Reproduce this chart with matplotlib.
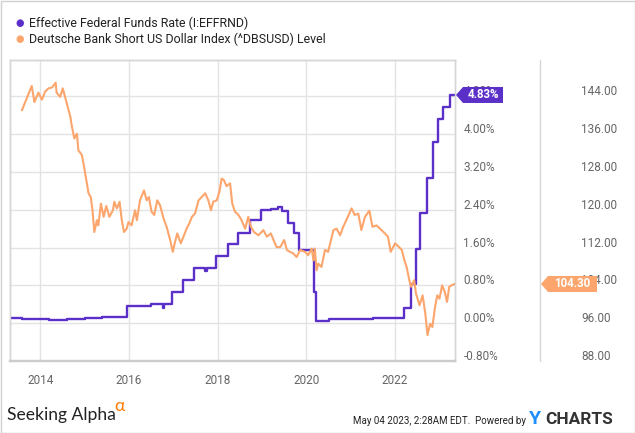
import matplotlib
matplotlib.use("Agg")
import matplotlib.pyplot as plt
import matplotlib.transforms as mtransforms
from matplotlib.patches import Polygon, Rectangle
from matplotlib.lines import Line2D

plt.rcParams['font.family'] = ['Roboto', 'DejaVu Sans']

# ---- data (decimal years) ----
fed_x = [2013.32, 2013.60, 2013.90, 2014.20, 2014.60, 2015.00, 2015.40, 2015.70,
         2015.96, 2016.10, 2016.50, 2016.76, 2016.79, 2016.97, 2017.22, 2017.46,
         2017.72, 2017.75, 2017.97, 2018.23, 2018.46, 2018.72, 2018.97, 2019.20,
         2019.35, 2019.45, 2019.58, 2019.72, 2019.84, 2020.17, 2020.21, 2020.50,
         2021.00, 2021.50, 2022.21, 2022.35, 2022.46, 2022.57, 2022.72, 2022.85,
         2022.96, 2023.09, 2023.23, 2023.34]
fed_y = [0.11, 0.09, 0.08, 0.07, 0.09, 0.11, 0.13, 0.14,
         0.36, 0.37, 0.40, 0.33, 0.40, 0.66, 0.91, 1.16,
         1.10, 1.16, 1.42, 1.68, 1.91, 2.18, 2.40, 2.41,
         2.45, 2.38, 2.13, 1.90, 1.55, 0.65, 0.05, 0.09,
         0.08, 0.10, 0.33, 0.83, 1.58, 2.33, 3.08, 3.83,
         4.33, 4.58, 4.83, 4.83]

dbs_x = [2013.59, 2013.81, 2013.87, 2013.96, 2014.04, 2014.11, 2014.19, 2014.27,
         2014.35, 2014.37, 2014.45, 2014.51, 2014.60, 2014.68, 2014.71, 2014.77,
         2014.83, 2014.86, 2014.94, 2014.99, 2015.04, 2015.09, 2015.14, 2015.18,
         2015.22, 2015.28, 2015.31, 2015.37, 2015.43, 2015.49, 2015.56, 2015.64,
         2015.67, 2015.73, 2015.79, 2015.84, 2015.89, 2015.95, 2015.99, 2016.06,
         2016.14, 2016.18, 2016.25, 2016.34, 2016.40, 2016.45, 2016.51, 2016.57,
         2016.64, 2016.70, 2016.78, 2016.85, 2016.93, 2016.99, 2017.04, 2017.09,
         2017.17, 2017.23, 2017.30, 2017.36, 2017.42, 2017.49, 2017.57, 2017.64,
         2017.72, 2017.79, 2017.85, 2017.90, 2017.98, 2018.04, 2018.09, 2018.14,
         2018.20, 2018.28, 2018.33, 2018.39, 2018.47, 2018.54, 2018.62, 2018.69,
         2018.75, 2018.82, 2018.92, 2019.03, 2019.11, 2019.20, 2019.26, 2019.33,
         2019.41, 2019.50, 2019.56, 2019.63, 2019.70, 2019.78, 2019.86, 2019.97,
         2020.04, 2020.12, 2020.16, 2020.19, 2020.23, 2020.27, 2020.34, 2020.42,
         2020.49, 2020.61, 2020.68, 2020.76, 2020.83, 2020.90, 2021.02, 2021.09,
         2021.17, 2021.24, 2021.32, 2021.42, 2021.49, 2021.58, 2021.66, 2021.77,
         2021.84, 2021.90, 2022.00, 2022.09, 2022.15, 2022.21, 2022.26, 2022.32,
         2022.36, 2022.43, 2022.47, 2022.55, 2022.62, 2022.68, 2022.73, 2022.79,
         2022.84, 2022.90, 2022.95, 2023.00, 2023.06, 2023.12, 2023.17, 2023.22,
         2023.27, 2023.34]
dbs_y = [141.1, 146.2, 142.8, 144.8, 143.3, 145.0, 145.7, 145.9,
         146.9, 144.8, 143.9, 145.7, 142.5, 139.7, 137.9, 135.1,
         136.1, 132.6, 131.6, 129.1, 126.3, 123.5, 122.7, 119.9,
         115.3, 117.8, 116.7, 121.3, 118.5, 120.8, 118.5, 119.9,
         121.7, 120.3, 121.7, 117.8, 115.3, 116.0, 117.4, 116.7,
         119.9, 117.8, 122.0, 124.1, 122.0, 122.7, 119.6, 118.9,
         122.0, 121.0, 118.2, 116.4, 113.6, 111.1, 113.2, 115.0,
         112.9, 114.3, 116.0, 117.1, 118.5, 119.2, 122.0, 122.7,
         123.5, 122.0, 119.9, 121.7, 122.0, 123.8, 126.6, 126.3,
         125.0, 125.6, 121.3, 119.6, 118.9, 117.8, 116.0, 118.5,
         116.4, 115.3, 114.6, 115.7, 114.3, 115.0, 113.6, 112.1,
         112.1, 113.6, 111.5, 111.1, 110.8, 110.0, 111.5, 111.1,
         110.4, 111.8, 109.3, 111.8, 107.2, 108.6, 107.9, 111.5,
         111.1, 115.7, 116.0, 114.6, 116.4, 117.8, 120.3, 118.9,
         119.2, 115.7, 118.5, 119.8, 116.4, 116.7, 116.0, 115.0,
         114.3, 111.1, 112.9, 112.1, 111.5, 109.3, 107.9, 105.1,
         103.7, 105.1, 102.3, 99.8, 101.9, 98.1, 93.5, 95.9,
         95.2, 99.4, 101.9, 101.2, 104.0, 102.6, 100.5, 103.7,
         104.0, 104.3]

year_ticks = [2014, 2016, 2018, 2020, 2022]
pct_ticks = [-0.8, 0.0, 0.8, 1.6, 2.4, 3.2, 4.0, 4.8]
idx_ticks = [88, 96, 104, 112, 120, 128, 136, 144]

fed_label = "Effective Federal Funds Rate (I:EFFRND)"
dbs_label = "Deutsche Bank Short US Dollar Index (^DBSUSD) Level"
fed_last = "4.83%"
dbs_last = "104.30"

PURPLE = '#5b30c9'
ORANGE = '#fca56c'
GRID = '#e3e3e3'
TICKC = '#666666'

W, H = 635, 433
fig = plt.figure(figsize=(W / 100, H / 100), dpi=100)
ax = fig.add_axes([10 / W, (H - 361) / H, 445 / W, 301 / H])
ax2 = ax.twinx()

ax.set_xlim(2013.32, 2023.35)
ax.set_ylim(-0.8, 5.57)
ax2.set_ylim(88, 151.7)

ax.plot(fed_x, fed_y, color=PURPLE, lw=1.7, drawstyle='steps-post', zorder=3)
ax2.plot(dbs_x, dbs_y, color=ORANGE, lw=1.5, zorder=2)

ax.set_xticks(year_ticks)
ax.set_xticklabels([str(y) for y in year_ticks])
ax.set_yticks(pct_ticks)
ax.set_yticklabels([f"{v:.2f}%" for v in pct_ticks])
ax2.set_yticks(idx_ticks)
ax2.set_yticklabels([f"{v:.2f}" for v in idx_ticks])

ax.yaxis.tick_right()
ax.grid(True, color=GRID, lw=1.0)
ax.set_axisbelow(True)
ax2.grid(False)
ax.tick_params(axis='x', length=0, pad=9, labelsize=8.5, labelcolor=TICKC)
ax.tick_params(axis='y', length=0, pad=6, labelsize=8.5, labelcolor=TICKC)
ax2.tick_params(axis='y', length=0, pad=91, labelsize=8.5, labelcolor=TICKC)

off = mtransforms.ScaledTranslation(0, 6 / 100, fig.dpi_scale_trans)
for lab in ax.get_yticklabels() + ax2.get_yticklabels():
    lab.set_transform(lab.get_transform() + off)
    lab.set_horizontalalignment('left')

for a in (ax, ax2):
    for s in a.spines.values():
        s.set_color('#d6d6d6')
        s.set_linewidth(1.0)
    a.spines['bottom'].set_linewidth(1.6)
    a.spines['bottom'].set_color('#cccccc')
ax.patch.set_alpha(0)

# separator line of the second axis
fig.add_artist(Line2D([540 / W, 540 / W], [(H - 361) / H, (H - 60) / H],
                      transform=fig.transFigure, color='#d6d6d6', lw=1.0))
# outer border
fig.add_artist(Rectangle((0.5 / W, 0.5 / H), (W - 1) / W, (H - 1) / H,
                         transform=fig.transFigure, fill=False,
                         edgecolor='#d0d0d0', lw=1.0))

# legend
for i, (lbl, col) in enumerate([(fed_label, PURPLE), (dbs_label, ORANGE)]):
    yy = 1 - (23 + 16 * i) / H
    fig.text(20 / W, yy, '\u25cf', color=col, fontsize=7, ha='center', va='center',
             family='DejaVu Sans')
    fig.text(29 / W, yy, lbl, color='#222222', fontsize=8.9, ha='left', va='center')

fig.canvas.draw()

def tag(axis, xval, yval, text, x0, width, color):
    yp = axis.transData.transform((xval, yval))[1]
    h = 16
    pts = [(x0, yp), (x0 + 7, yp + h / 2), (x0 + width, yp + h / 2),
           (x0 + width, yp - h / 2), (x0 + 7, yp - h / 2)]
    fig.add_artist(Polygon(pts, closed=True, transform=None, color=color, lw=0,
                           zorder=5))
    fig.text((x0 + 7 + (width - 7) / 2) / W, yp / H, text, color='white',
             fontsize=8.3, fontweight='bold', ha='center', va='center', zorder=6)

tag(ax, fed_x[-1], fed_y[-1], fed_last, 456, 47, PURPLE)
tag(ax2, dbs_x[-1], dbs_y[-1], dbs_last, 541, 56, ORANGE)

# footer
fig.text(7 / W, 1 - 420 / H, 'Seeking Alpha', fontsize=12.6, color='#222222',
         ha='left', va='baseline', family=['Lato', 'DejaVu Sans'])
fig.text(114 / W, 1 - 411 / H, '\u03b1', fontsize=12.5, color='#ff7a00',
         ha='left', va='baseline', family=['Lato', 'DejaVu Sans'])
fig.text(526 / W, 1 - 424 / H, 'May 04 2023, 2:28AM EDT.  Powered by', fontsize=7.0,
         color='#222222', ha='right', va='baseline')
fig.text(529 / W, 1 - 424 / H, 'Y', fontsize=14, color='#1f8fff', fontweight='bold',
         ha='left', va='baseline')
fig.text(545 / W, 1 - 424 / H, 'CHARTS', fontsize=12.4, color='#333333',
         fontweight='bold', ha='left', va='baseline')

fig.savefig('out.png', dpi=100)
